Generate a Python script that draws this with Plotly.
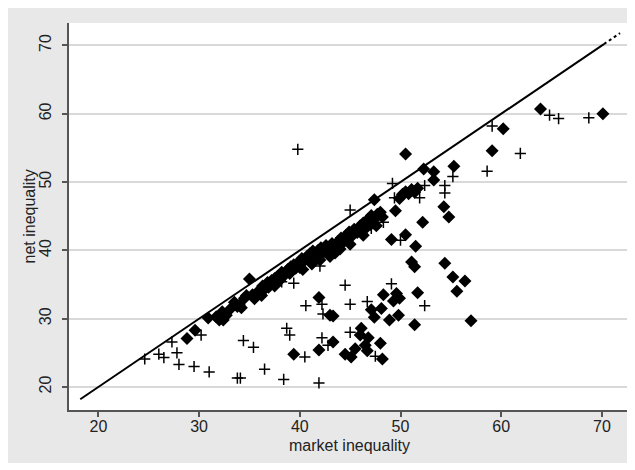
import plotly.graph_objects as go

# Diamonds (filled)
dia_x = [28.8, 29.6, 30.9, 31.7, 32.0, 32.3, 32.4, 32.7, 33.1, 33.5, 34.0, 34.2, 34.5, 34.7, 35.0, 35.3,
         35.7, 36.0, 36.3, 36.5, 36.8, 37.2, 37.5, 37.8, 38.2, 38.5, 38.8, 39.1, 39.4, 39.6, 39.9, 40.2,
         40.4, 40.7, 41.0, 41.3, 41.5, 41.8, 42.1, 42.4, 42.6, 42.9, 43.2, 43.5, 43.8, 44.1, 44.3, 44.6,
         44.9, 45.1, 45.4, 45.7, 46.0, 46.3, 46.6, 46.8, 47.1, 47.3, 47.7, 48.0, 48.2, 49.9, 50.2, 50.5,
         50.8, 51.1, 51.4, 51.7,
         39.4, 41.9, 41.9, 43.0, 43.3, 43.3, 44.5, 45.1, 45.5, 46.1, 46.0, 46.8, 46.5, 46.7, 48.0, 48.2,
         47.1, 48.1, 47.4, 48.9, 49.8, 48.3, 49.6, 49.9, 49.3, 51.7, 51.4, 51.1, 51.4, 51.5, 50.5, 49.1,
         52.2, 49.5, 54.3, 54.8, 54.4, 55.2, 56.4, 55.6, 57.0, 50.5, 52.3, 53.3, 53.3, 55.3, 59.1, 60.2,
         63.9, 70.1, 47.4,
         36.9, 38.0, 39.0, 40.0, 40.9, 41.7, 42.8, 43.6, 44.5, 45.3, 46.2, 47.0, 33.8, 35.5,
         40.3, 41.2, 42.0, 43.0, 44.0, 45.0, 46.3, 47.6, 37.5, 36.2]
dia_y = [27.1, 28.3, 30.1, 30.3, 29.8, 31.0, 29.8, 30.5, 31.4, 32.4, 32.0, 31.6, 33.0, 33.4, 35.8, 33.5,
         33.6, 34.2, 34.8, 34.3, 35.3, 35.6, 35.9, 36.2, 36.8, 36.4, 37.2, 37.6, 37.9, 37.4, 38.3, 38.8,
         38.4, 39.1, 39.5, 39.9, 39.3, 40.0, 40.4, 39.8, 40.7, 40.2, 41.0, 39.6, 41.3, 41.8, 41.2, 42.2,
         42.7, 42.0, 43.1, 42.6, 43.6, 44.0, 43.3, 44.6, 45.1, 44.4, 45.3, 45.6, 44.9, 47.6, 48.2, 48.6,
         48.3, 48.9, 48.5, 49.1,
         24.8, 25.4, 33.1, 30.5, 30.4, 26.6, 24.8, 24.4, 25.6, 28.6, 27.6, 27.2, 26.1, 25.3, 26.4, 24.1,
         31.3, 31.5, 30.2, 29.8, 30.5, 33.5, 33.7, 33.0, 32.6, 33.8, 29.1, 38.3, 37.6, 40.6, 42.3, 41.6,
         44.1, 45.8, 46.4, 44.9, 38.1, 36.1, 35.5, 34.0, 29.7, 54.1, 51.9, 51.5, 50.3, 52.3, 54.6, 57.8,
         60.7, 60.0, 47.4,
         34.6, 35.6, 36.6, 37.5, 38.6, 39.2, 40.0, 40.6, 41.5, 42.4, 43.0, 43.8, 31.8, 32.9,
         37.2, 38.0, 38.6, 39.1, 40.2, 40.9, 42.2, 43.6, 34.8, 33.4]

# Plus markers
plus_x = [24.6, 26.0, 26.5, 27.3, 27.8, 28.0, 29.5, 30.2, 31.0, 33.8, 34.1, 34.4, 35.4, 36.5, 38.2,
          39.4, 38.4, 38.7, 39.0, 39.8, 40.5, 40.6, 41.9, 42.0, 42.2, 42.3, 42.2, 42.8, 44.5, 45.0,
          45.0, 45.0, 46.7, 47.1, 47.5, 48.3, 49.1, 49.2, 49.4, 50.0, 51.9, 52.4, 52.4, 54.4, 54.4,
          55.2, 58.6, 59.1, 61.9, 64.8, 65.7, 68.7]
plus_y = [24.1, 24.8, 24.3, 26.6, 25.0, 23.3, 23.0, 27.6, 22.2, 21.3, 21.3, 26.8, 25.8, 22.6, 35.4,
          35.2, 21.1, 28.6, 27.6, 54.8, 24.4, 31.9, 20.6, 37.7, 32.1, 30.7, 27.2, 26.1, 34.9, 32.1,
          28.0, 45.9, 32.5, 43.2, 24.5, 44.1, 35.1, 49.8, 47.7, 41.5, 47.7, 49.5, 31.9, 49.5, 48.4,
          50.8, 51.6, 58.2, 54.2, 59.8, 59.3, 59.4]

# 45-degree reference line
line_x = [18.2, 70.2]
line_dot_x = [70.2, 71.8]

tick_vals = [20, 30, 40, 50, 60, 70]
x_title = "market inequality"
y_title = "net inequality"

fig = go.Figure()
fig.add_trace(go.Scatter(x=line_x, y=line_x, mode="lines",
                         line=dict(color="black", width=2), hoverinfo="skip"))
fig.add_trace(go.Scatter(x=line_dot_x, y=line_dot_x, mode="lines",
                         line=dict(color="black", width=2, dash="dot"), hoverinfo="skip"))
fig.add_trace(go.Scatter(x=dia_x, y=dia_y, mode="markers",
                         marker=dict(symbol="diamond", size=10, color="black", line=dict(width=0))))
fig.add_trace(go.Scatter(x=plus_x, y=plus_y, mode="markers",
                         marker=dict(symbol="cross-thin", size=8, color="black",
                                     line=dict(color="black", width=1.5))))

# page has an 8px body margin; figure occupies page x 8..635, y 8..463
W, H = 627, 455
ml, mr, mt, mb = 61, 5, 15, 53
pw, ph = W - ml - mr, H - mt - mb

fnt = dict(family="Liberation Sans, Arial, sans-serif", size=16, color="#222")
# x title centred at page y 445 (figure y 437)
fig.add_annotation(text=x_title, xref="paper", yref="paper", x=0.5, y=(ph - (437 - mt)) / ph,
                   xanchor="center", yanchor="middle", showarrow=False, font=fnt)
fig.add_annotation(text=y_title, xref="paper", yref="paper", x=(21 - ml) / pw, y=0.5,
                   xanchor="center", yanchor="middle", showarrow=False, font=fnt, textangle=-90)

fig.update_layout(
    width=W, height=H, margin=dict(l=ml, r=mr, t=mt, b=mb, autoexpand=False),
    paper_bgcolor="#e8e8e8", plot_bgcolor="white", showlegend=False,
    font=fnt,
    xaxis=dict(range=[17.08, 72.79], tickvals=tick_vals, showgrid=False, zeroline=False,
               showline=True, linecolor="#555", linewidth=1.5, ticks="outside", ticklen=5,
               tickcolor="#555", tickwidth=1.5, tickfont=fnt, automargin=False,
               ticklabelstandoff=-4),
    yaxis=dict(range=[16.63, 73.29], tickvals=tick_vals, showgrid=True, gridcolor="#d9d9d9",
               gridwidth=1.5, zeroline=False, showline=True, linecolor="#555", linewidth=1.5,
               ticks="outside", ticklen=5, tickcolor="#555", tickwidth=1.5, tickangle=-90,
               ticklabelstandoff=5, automargin=False, tickfont=fnt),
)
fig.write_html("out.html")
